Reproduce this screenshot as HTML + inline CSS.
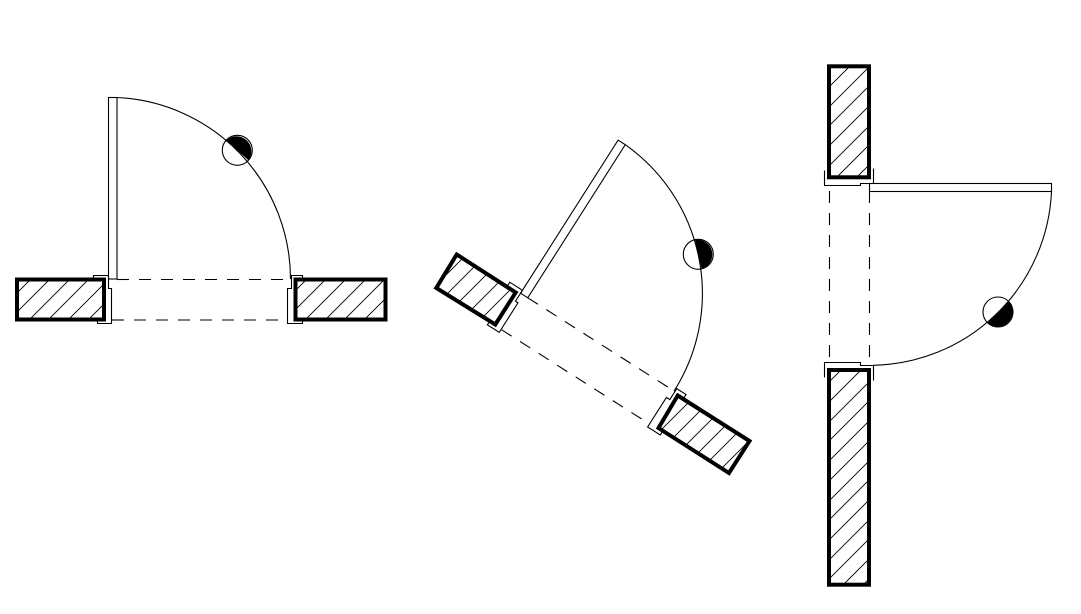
<!DOCTYPE html>
<html>
<head>
<meta charset="utf-8">
<title>Door plans</title>
<style>
html,body{margin:0;padding:0;background:#fff;width:1081px;height:614px;overflow:hidden}
svg{display:block}
.t{fill:none;stroke:#000;stroke-width:1.1}
.d{fill:none;stroke:#000;stroke-width:1.1;stroke-dasharray:12 10}
.w{fill:none;stroke:#000;stroke-width:4;stroke-linejoin:miter}
.h{fill:none;stroke:#000;stroke-width:.9}
</style>
</head>
<body>
<svg width="1081" height="614" viewBox="0 0 1081 614" xmlns="http://www.w3.org/2000/svg">
<defs>
<clipPath id="a"><rect x="17" y="279.5" width="87" height="40"/></clipPath>
<clipPath id="b"><rect x="295.5" y="279.5" width="90" height="40"/></clipPath>
<clipPath id="c"><rect x="829" y="66" width="40" height="112"/></clipPath>
<clipPath id="e"><rect x="829" y="370" width="40" height="215"/></clipPath>
<clipPath id="f"><polygon points="456.7,254.5 515.7,292.5 495.3,324.5 436.3,288"/></clipPath>
<clipPath id="g"><polygon points="677.7,395.5 749.5,441 729,473 658.5,428"/></clipPath>
<g id="frame">
<path class="t" d="M93.5 279V275.5H108.5V288.5H111.5V323.5H97.5V320"/>
<path class="t" d="M302.5 279V275.5H291.5V288.5H287.5V323.5H302.5V320"/>
</g>
</defs>
<rect width="1081" height="614" fill="#fff"/>

<!-- Door 1 -->
<path class="h" clip-path="url(#a)" d="M31 279L-10 320M50 279L9 320M70 279L29 320M89 279L48 320M109 279L68 320M129 279L88 320"/>
<path class="h" clip-path="url(#b)" d="M307 279L266 320M326 279L285 320M346 279L305 320M366 279L325 320M385 279L344 320M405 279L364 320"/>
<rect class="w" x="17" y="279.5" width="87" height="40"/>
<rect class="w" x="295.5" y="279.5" width="90" height="40"/>
<use href="#frame"/>
<rect class="t" x="108.5" y="97.5" width="8.5" height="181.5"/>
<path class="t" d="M117 97.5A182 182 0 0 1 290.5 279"/>
<path class="d" d="M117 279.5H289"/>
<path class="d" d="M112 320H288"/>
<circle class="t" cx="237.3" cy="150.3" r="15"/>
<path d="M226.2 140.3A15 15 0 0 1 248.4 160.3Z" fill="#000"/>

<!-- Door 2 -->
<path class="h" clip-path="url(#f)" d="M468 253L395 326M488 253L415 326M508 253L435 326M528 253L455 326M547 253L474 326M567 253L494 326"/>
<path class="h" clip-path="url(#g)" d="M677 394L597 474M697 394L617 474M717 394L637 474M737 394L657 474M757 394L677 474M776 394L696 474M796 394L716 474"/>
<polygon class="w" points="456.7,254.5 515.7,292.5 495.3,324.5 436.3,288"/>
<polygon class="w" points="677.7,395.5 749.5,441 729,473 658.5,428"/>
<g transform="translate(521 293.5) rotate(32.5) translate(-109 -279)">
<use href="#frame"/>
<rect class="t" x="108.5" y="97.5" width="8.5" height="181.5"/>
<path class="t" d="M117 97.5A182 182 0 0 1 290.5 279"/>
<path class="d" d="M117 279H289"/>
<path class="d" d="M112 320H288"/>
</g>
<circle class="t" cx="698.3" cy="254.3" r="15" fill="#fff"/>
<path d="M695 239.7A15 15 0 0 1 701.6 268.9Z" fill="#000"/>

<!-- Door 3 -->
<path class="h" clip-path="url(#c)" d="M830 66L718 178M850 66L738 178M870 66L758 178M889 66L777 178M909 66L797 178M929 66L817 178M948 66L836 178M968 66L856 178"/>
<path class="h" clip-path="url(#e)" d="M841 370L626 585M861 370L646 585M881 370L666 585M900 370L685 585M920 370L705 585M940 370L725 585M960 370L745 585M979 370L764 585M999 370L784 585M1019 370L804 585M1038 370L823 585M1058 370L843 585M1078 370L863 585"/>
<rect class="w" x="829" y="66.3" width="40" height="111"/>
<rect class="w" x="829" y="370" width="40" height="214.7"/>
<path class="t" d="M873.5 168.5V183.5H860.5V185.5H824.5V170.5"/>
<path class="t" d="M873.5 380.5V365.5H860.5V362.5H824.5V377.5"/>
<rect class="t" x="869.5" y="183.5" width="182" height="8"/>
<path class="t" d="M1051.5 191.5A182 182 0 0 1 873 365.3"/>
<path class="d" d="M829.5 191V363"/>
<path class="d" d="M869.5 191V365"/>
<circle class="t" cx="998" cy="312" r="15"/>
<path d="M1008.4 301.2A15 15 0 0 1 987.6 322.8Z" fill="#000"/>
</svg>
</body>
</html>
